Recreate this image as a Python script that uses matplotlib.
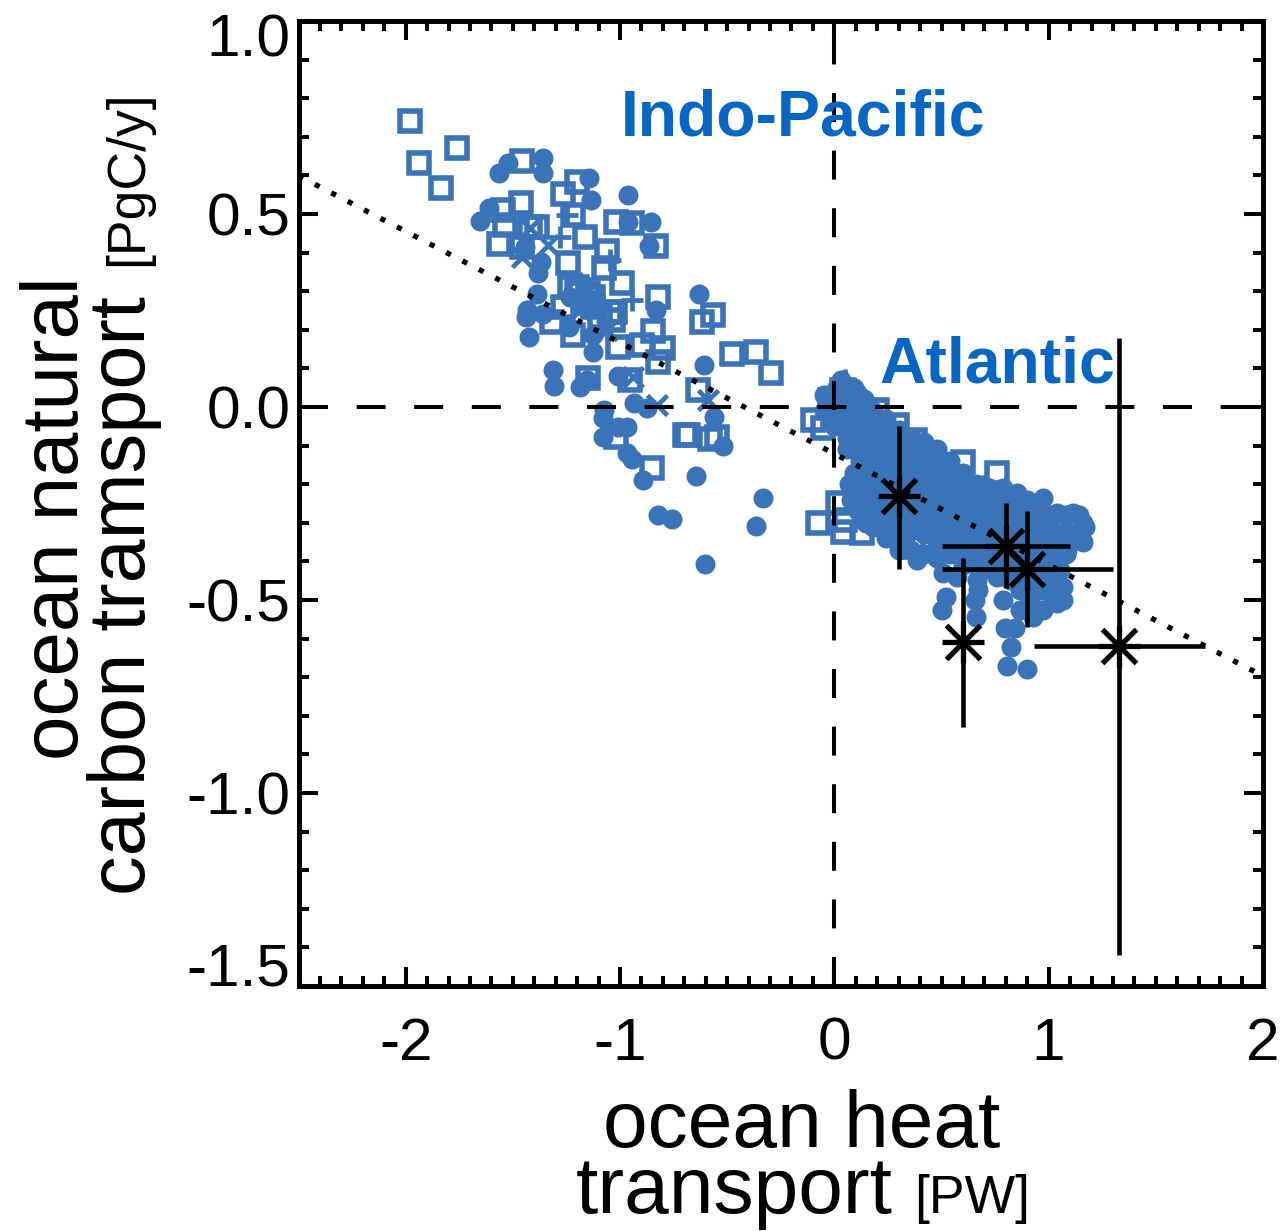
#!/usr/bin/env python

import matplotlib
matplotlib.use('Agg')
import matplotlib.pyplot as plt
from matplotlib.transforms import ScaledTranslation

plt.rcParams['font.family'] = ['Liberation Sans', 'DejaVu Sans']
plt.rcParams['axes.unicode_minus'] = False

BLUE = '#3b73b9'
TEXTBLUE = '#0566c4'

# Indo-Pacific
ip_square_x = [-1.979, -1.76, -1.937, -1.834, -1.456, -1.461, -1.545, -1.535, -1.563, -1.456, -1.419,
               -1.265, -1.199, -1.218, -1.162, -1.059, -1.241, -1.073, -0.989, -1.232, -1.148, -0.821,
               -0.565, -0.616, -1.265, -1.316, -1.218, -1.125, -1.045, -1.022, -0.845, -1.008, -0.896,
               -0.798, -0.821, -0.476, -0.364, -0.294, -1.148, -0.952, -0.635, -1.017, -0.943, -0.831,
               -1.017, -0.849, -0.695, -0.681, -0.579, -0.546,
               -1.199, -1.185, -1.125, -1.032, -1.092, -1.162, -1.386]
ip_square_y = [0.74, 0.672, 0.633, 0.568, 0.638, 0.529, 0.511, 0.472, 0.423, 0.415, 0.467,
               0.553, 0.584, 0.498, 0.441, 0.405, 0.374, 0.361, 0.322, 0.311, 0.296, 0.285,
               0.239, 0.221, 0.26, 0.221, 0.187, 0.26, 0.247, 0.247, 0.197, 0.156, 0.161,
               0.153, 0.117, 0.138, 0.143, 0.088, 0.075, 0.07, 0.044, 0.48, 0.477, 0.418,
               -0.078, -0.158, -0.073, -0.073, -0.083, -0.078,
               0.311, 0.304, 0.285, 0.226, 0.234, 0.27, 0.467]
ip_circle_x = [-1.358, -1.358, -1.521, -1.563, -1.143, -1.134, -0.961, -0.961, -0.854, -0.863, -1.61,
               -1.652, -1.442, -1.367, -1.381, -1.386, -1.433, -1.437, -1.358, -1.423, -1.237, -1.125,
               -1.125, -0.831, -0.63, -1.311, -1.307, -1.185, -1.153, -1.008, -0.933, -0.873, -1.073,
               -1.078, -0.966, -1.008, -0.607, -0.56, -1.078, -0.966, -0.943, -0.891, -0.644, -0.821,
               -0.756, -0.331, -0.364, -0.602, -0.518, -1.171, -1.232]
ip_circle_y = [0.644, 0.605, 0.631, 0.605, 0.594, 0.535, 0.548, 0.48, 0.48, 0.418, 0.516,
               0.483, 0.415, 0.376, 0.348, 0.293, 0.252, 0.234, 0.241, 0.182, 0.208, 0.187,
               0.143, 0.252, 0.293, 0.096, 0.054, 0.052, 0.07, 0.08, 0.01, -0.003, -0.008,
               -0.029, -0.052, -0.052, 0.109, -0.026, -0.078, -0.119, -0.135, -0.189, -0.179, -0.28,
               -0.291, -0.236, -0.309, -0.407, -0.101, 0.27, 0.285]
ip_cross_x = [-1.335, -1.419, -1.185, -0.938, -0.826, -0.588, -1.059, -1.456]
ip_cross_y = [0.42, 0.464, 0.252, 0.078, 0.005, 0.018, 0.2, 0.389]
ip_plus_x = [-1.279, -1.045, -0.943, -1.185, -1.246]
ip_plus_y = [0.441, 0.381, 0.278, 0.322, 0.498]

# Atlantic
at_square_x = [-0.098, -0.051, -0.019, 0.037, 0.121, 0.201, 0.294, 0.378, 0.602, 0.761, -0.075, 0.019,
               0.051, 0.131, 0.042, 0.495, 0.369]
at_square_y = [-0.034, -0.054, 0.018, 0.044, -0.008, -0.008, -0.047, -0.086, -0.143, -0.171, -0.301, -0.249,
               -0.293, -0.327, -0.324, -0.189, -0.363]
at_plus_x = [0.02, 0.05, 0.09, 0.14]
at_plus_y = [0.06, 0.07, 0.05, 0.02]
at_circle_x = [0.0, 0.0, 0.0, 0.0, 0.06, 0.06, 0.06, 0.06, 0.06, 0.12, 0.12, 0.12, 0.12, 0.12, 0.12,
               0.18, 0.18, 0.18, 0.18, 0.18, 0.18, 0.18, 0.18, 0.24, 0.24, 0.24, 0.24, 0.24, 0.24, 0.24, 0.24,
               0.30, 0.30, 0.30, 0.30, 0.30, 0.30, 0.30, 0.30, 0.36, 0.36, 0.36, 0.36, 0.36, 0.36, 0.36, 0.36,
               0.42, 0.42, 0.42, 0.42, 0.42, 0.42, 0.42, 0.42, 0.48, 0.48, 0.48, 0.48, 0.48, 0.48, 0.48, 0.48,
               0.54, 0.54, 0.54, 0.54, 0.54, 0.54, 0.54, 0.60, 0.60, 0.60, 0.60, 0.60, 0.60, 0.60,
               0.66, 0.66, 0.66, 0.66, 0.66, 0.66, 0.72, 0.72, 0.72, 0.72, 0.72, 0.72,
               0.78, 0.78, 0.78, 0.78, 0.78, 0.84, 0.84, 0.84, 0.84, 0.84, 0.90, 0.90, 0.90, 0.90,
               0.96, 0.96, 0.96, 1.02, 1.02, 1.02, 1.08, 1.08, 1.08, 1.14, 1.14, 1.17,
               0.09, 0.07, 0.08, 0.11, 0.15,
               -0.05, -0.05, 0.03, 0.09, 0.14, 0.10, 0.14, 0.14, 0.18, 0.24, 0.30,
               1.02, 0.96, 0.96, 0.90, 0.90, 0.84, 0.78, 0.72, 0.66, 0.60, 1.08]
at_circle_y = [0.04, 0.01, -0.02, -0.05, 0.04, 0.0, -0.04, -0.08, -0.11, 0.02, -0.02, -0.06, -0.10, -0.14, -0.18,
               -0.01, -0.05, -0.09, -0.13, -0.17, -0.21, -0.25, -0.28, -0.03, -0.07, -0.11, -0.15, -0.19, -0.23, -0.27, -0.31,
               -0.06, -0.10, -0.14, -0.18, -0.22, -0.26, -0.30, -0.34, -0.08, -0.12, -0.16, -0.20, -0.24, -0.28, -0.32, -0.37,
               -0.09, -0.13, -0.17, -0.21, -0.25, -0.29, -0.33, -0.38, -0.11, -0.15, -0.19, -0.23, -0.27, -0.31, -0.35, -0.39,
               -0.14, -0.18, -0.22, -0.26, -0.30, -0.34, -0.38, -0.17, -0.21, -0.25, -0.29, -0.33, -0.37, -0.41,
               -0.20, -0.24, -0.28, -0.32, -0.36, -0.41, -0.21, -0.25, -0.29, -0.33, -0.37, -0.42,
               -0.22, -0.26, -0.30, -0.34, -0.42, -0.23, -0.27, -0.31, -0.35, -0.44, -0.24, -0.28, -0.32, -0.46,
               -0.25, -0.29, -0.33, -0.28, -0.32, -0.36, -0.28, -0.32, -0.36, -0.28, -0.33, -0.31,
               -0.17, -0.20, -0.24, -0.27, -0.30,
               0.03, -0.01, 0.07, 0.05, 0.02, -0.21, -0.22, -0.26, -0.31, -0.34, -0.37,
               -0.40, -0.37, -0.41, -0.36, -0.40, -0.39, -0.38, -0.39, -0.39, -0.40, -0.38]
# stragglers below the main cloud
at_low_x = [1.162, 1.162, 1.115, 1.041, 0.975, 1.087, 1.022, 0.882, 0.854, 0.789, 0.695, 0.387, 0.509, 0.574,
            0.667, 0.761, 0.523, 0.504, 0.672, 0.658, 0.663, 0.789, 0.798, 0.845, 0.826, 0.807, 0.901, 1.008,
            1.069, 1.041, 0.929, 0.868, 0.975, 1.069, 1.022, 0.962, 0.915, 0.868, 0.821, 0.962, 1.055]
at_low_y = [-0.301, -0.35, -0.275, -0.275, -0.236, -0.371, -0.389, -0.267, -0.223, -0.21, -0.202, -0.397, -0.431, -0.441,
            -0.449, -0.441, -0.493, -0.527, -0.475, -0.501, -0.545, -0.501, -0.573, -0.573, -0.623, -0.672, -0.68, -0.483,
            -0.467, -0.509, -0.545, -0.527, -0.527, -0.501, -0.441, -0.475, -0.501, -0.475, -0.449, -0.423, -0.423]

# observations, black stars
obs_x = [0.30, 0.80, 0.90, 0.60, 1.33]
obs_y = [-0.23, -0.36, -0.42, -0.61, -0.62]
obs_xlo = [0.30, 0.50, 0.50, 0.60, 0.93]
obs_xhi = [0.30, 1.10, 1.30, 0.60, 1.73]
obs_ylo = [-0.42, -0.47, -0.57, -0.83, -1.42]
obs_yhi = [-0.05, -0.25, -0.27, -0.39, 0.18]

fit_x = [-2.5, 2.0]
fit_y = [0.599, -0.697]

xticks = [-2, -1, 0, 1, 2]
yticks = [-1.5, -1.0, -0.5, 0.0, 0.5, 1.0]
yticklabels = ['-1.5', '-1.0', '-0.5', '0.0', '0.5', '1.0']

fig = plt.figure(figsize=(12.81, 12.31), dpi=100)
ax = fig.add_axes([298.5/1281, 1-986/1231, 964.5/1281, 965/1231])

sq = dict(mfc='none', mec=BLUE, mew=4.0, ms=14, ls='none')
ax.plot(ip_square_x, ip_square_y, 's', **sq)
ax.plot(at_square_x, at_square_y, 's', **sq)
ax.plot(ip_cross_x, ip_cross_y, 'x', color=BLUE, mew=3.4, ms=14)
ax.plot(ip_plus_x, ip_plus_y, '+', color=BLUE, mew=3.4, ms=16)
ax.plot(at_plus_x, at_plus_y, '+', color=BLUE, mew=3.4, ms=16)
ax.plot(ip_circle_x, ip_circle_y, 'o', color=BLUE, mew=0, ms=14.4)
ax.plot(at_circle_x, at_circle_y, 'o', color=BLUE, mew=0, ms=14.4)
ax.plot(at_low_x, at_low_y, 'o', color=BLUE, mew=0, ms=14.4)

ax.plot(fit_x, fit_y, color='k', lw=3.8, linestyle=(0, (1, 2.5)))
ax.plot([-2.5, 2.0], [0, 0], color='k', lw=2.9, linestyle=(0, (7.2, 7.1)), dash_capstyle='butt')
ax.plot([0, 0], [-1.5, 1.0], color='k', lw=2.9, linestyle=(0, (7.2, 7.1)), dash_capstyle='butt')

xerr = [[x - lo for x, lo in zip(obs_x, obs_xlo)], [hi - x for x, hi in zip(obs_x, obs_xhi)]]
yerr = [[y - lo for y, lo in zip(obs_y, obs_ylo)], [hi - y for y, hi in zip(obs_y, obs_yhi)]]
ax.errorbar(obs_x, obs_y, xerr=xerr, yerr=yerr, fmt='none', ecolor='k', elinewidth=3.3, capsize=0)
ax.plot(obs_x, obs_y, '+', color='k', mew=3.8, ms=30, ls='none')
ax.plot(obs_x, obs_y, 'x', color='k', mew=3.8, ms=24, ls='none')

ax.set_xlim(-2.5, 2)
ax.set_ylim(-1.5, 1.0)
ax.set_xticks(xticks)
ax.set_yticks(yticks)
ax.set_yticklabels(yticklabels)
ax.set_xticks([i/10 for i in range(-25, 21)], minor=True)
ax.set_yticks([i/10 for i in range(-15, 11)], minor=True)
ax.tick_params(which='major', direction='in', top=True, right=True, length=13.5, width=2.9, labelsize=43.5)
ax.tick_params(which='minor', direction='in', top=True, right=True, length=7, width=2.9)
ax.tick_params(axis='x', which='major', pad=22)
ax.tick_params(axis='y', which='major', pad=6)
for s in ax.spines.values():
    s.set_linewidth(3.6)

# end labels sit inside the axis range
labs = ax.get_yticklabels()
labs[0].set_verticalalignment('baseline')
labs[-1].set_verticalalignment('top')
labs[-1].set_transform(labs[-1].get_transform() + ScaledTranslation(0, 5.5/72, fig.dpi_scale_trans))

ax.text(-0.995, 0.703, 'Indo-Pacific', color=TEXTBLUE, fontsize=46.4, fontweight='bold')
ax.text(0.21, 0.0623, 'Atlantic', color=TEXTBLUE, fontsize=46.4, fontweight='bold')

def label(px, py, s, size, rot=0):
    fig.text(px/1281, 1-py/1231, s, fontsize=size, rotation=rot, rotation_mode='anchor',
             ha='left', va='baseline')

label(603, 1147, 'ocean heat', 57.8)
label(576, 1213, 'transport', 57.8)
label(914, 1213, '[PW]', 38.5)
label(78, 760, 'ocean natural', 57.5, 90)
label(145, 895, 'carbon tramsport', 57, 90)
label(142, 266, '[PgC/y]', 38.5, 90)

fig.savefig('out.png', dpi=100)
